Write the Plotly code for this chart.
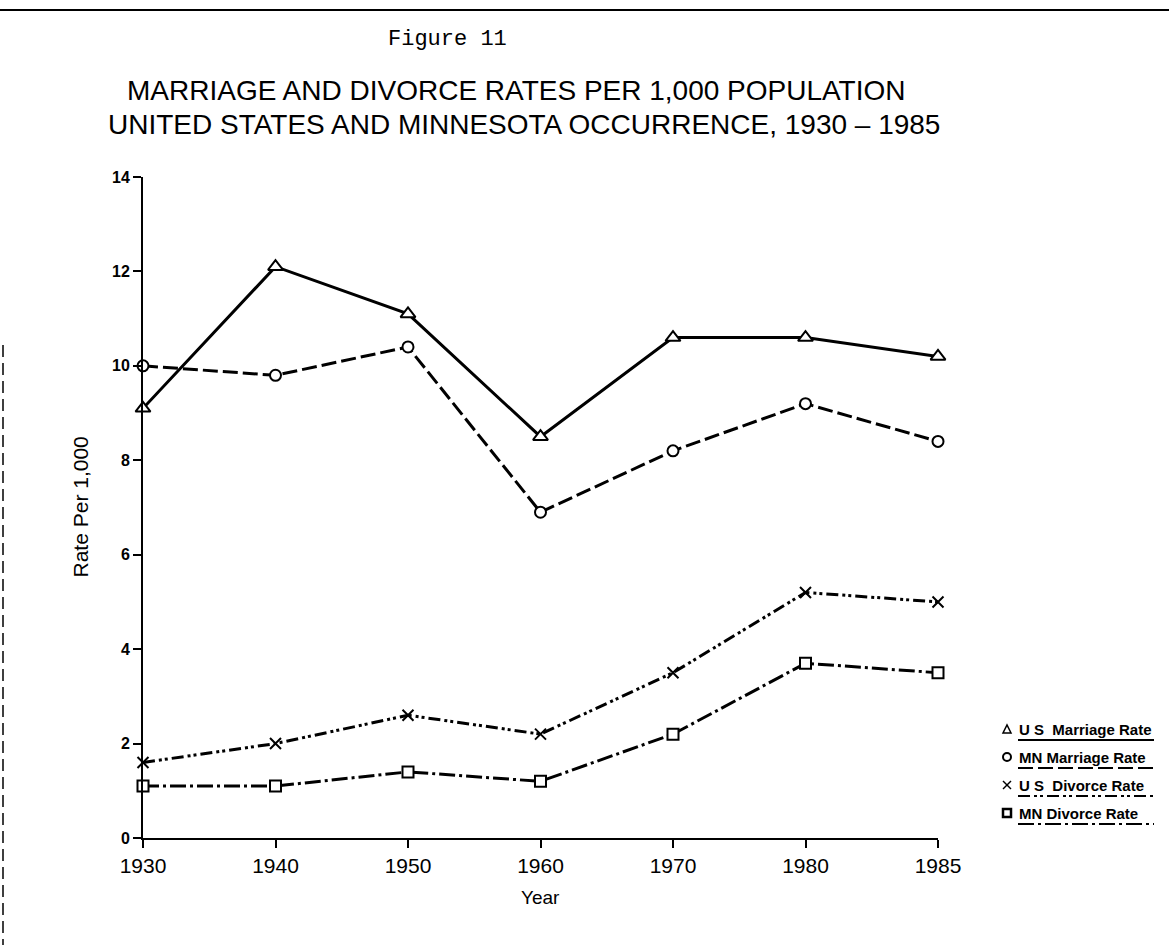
import plotly.graph_objects as go

# ---------------- data ----------------
years = ["1930", "1940", "1950", "1960", "1970", "1980", "1985"]
us_marriage = [9.1, 12.1, 11.1, 8.5, 10.6, 10.6, 10.2]
mn_marriage = [10.0, 9.8, 10.4, 6.9, 8.2, 9.2, 8.4]
us_divorce = [1.6, 2.0, 2.6, 2.2, 3.5, 5.2, 5.0]
mn_divorce = [1.1, 1.1, 1.4, 1.2, 2.2, 3.7, 3.5]
series_names = ["U S  Marriage Rate", "MN Marriage Rate", "U S  Divorce Rate", "MN Divorce Rate"]
y_ticks = [0, 2, 4, 6, 8, 10, 12, 14]

# ---------------- styling ----------------
W_FIG, H_FIG = 1169, 945
L, R, T, B = 143, 231, 177, 107
PW = W_FIG - L - R
PH = H_FIG - T - B

def px(xp):
    return (xp - L) / PW

def py(yp):
    return (H_FIG - B - yp) / PH

SANS = "Liberation Sans Narrow, Liberation Sans, Arial, sans-serif"
dashes = ["solid", "15px,5px", "12px,4px,3px,3px,3px,4px", "16px,4px,3px,4px"]
symbols = ["triangle-up", "circle", "x-thin", "square"]
msizes = [13, 11, 11, 11]
all_series = [us_marriage, mn_marriage, us_divorce, mn_divorce]

fig = go.Figure()
for name, vals, dash, sym, ms in zip(series_names, all_series, dashes, symbols, msizes):
    fig.add_trace(go.Scatter(
        x=years, y=vals, name=name, mode="lines+markers",
        line=dict(color="black", width=3, dash=dash),
        marker=dict(symbol=sym, size=ms, color="white" if sym != "x-thin" else "black",
                    line=dict(color="black", width=2)),
        cliponaxis=False, showlegend=False,
    ))

# ---------------- custom legend ----------------
leg_y = [729, 757, 785, 813]
sx = 1007
annotations = []
shapes = []
for i, (name, yy, dash) in enumerate(zip(series_names, leg_y, dashes)):
    annotations.append(dict(
        x=px(1017), y=py(yy), xref="paper", yref="paper",
        text="<b>" + name + "</b>", showarrow=False, xanchor="left", yanchor="middle",
        font=dict(family=SANS, size=15, color="black"),
    ))
    shapes.append(dict(
        type="line", xref="paper", yref="paper",
        x0=px(1018), x1=px(1154), y0=py(yy + 11), y1=py(yy + 11),
        line=dict(color="black", width=2, dash=dash),
    ))
    s = 4
    if i == 0:
        shapes.append(dict(type="path", xref="paper", yref="paper",
                           path="M %f,%f L %f,%f L %f,%f Z" % (px(sx - s), py(yy + s), px(sx + s), py(yy + s), px(sx), py(yy - s)),
                           line=dict(color="black", width=1.5), fillcolor="white"))
    elif i == 1:
        shapes.append(dict(type="circle", xref="paper", yref="paper",
                           x0=px(sx - s), x1=px(sx + s), y0=py(yy + s), y1=py(yy - s),
                           line=dict(color="black", width=2), fillcolor="white"))
    elif i == 2:
        shapes.append(dict(type="line", xref="paper", yref="paper",
                           x0=px(sx - s), x1=px(sx + s), y0=py(yy + s), y1=py(yy - s),
                           line=dict(color="black", width=1.5)))
        shapes.append(dict(type="line", xref="paper", yref="paper",
                           x0=px(sx - s), x1=px(sx + s), y0=py(yy - s), y1=py(yy + s),
                           line=dict(color="black", width=1.5)))
    else:
        shapes.append(dict(type="rect", xref="paper", yref="paper",
                           x0=px(sx - s), x1=px(sx + s), y0=py(yy + s), y1=py(yy - s),
                           line=dict(color="black", width=2.5), fillcolor="white"))

# titles
annotations.append(dict(x=px(447), y=py(40), xref="paper", yref="paper", text="Figure 11",
                        showarrow=False, xanchor="center", yanchor="middle",
                        font=dict(family="Liberation Mono, Courier New, monospace", size=22, color="black")))
annotations.append(dict(x=px(516), y=py(90), xref="paper", yref="paper",
                        text="MARRIAGE AND DIVORCE RATES PER 1,000 POPULATION",
                        showarrow=False, xanchor="center", yanchor="middle",
                        font=dict(family=SANS, size=28, color="black")))
annotations.append(dict(x=px(524), y=py(124), xref="paper", yref="paper",
                        text="UNITED STATES AND MINNESOTA OCCURRENCE, 1930 \u2013 1985",
                        showarrow=False, xanchor="center", yanchor="middle",
                        font=dict(family=SANS, size=28, color="black")))
# axis titles
annotations.append(dict(x=0.5, y=py(897), xref="paper", yref="paper", text="Year",
                        showarrow=False, xanchor="center", yanchor="middle",
                        font=dict(family=SANS, size=19, color="black")))
annotations.append(dict(x=px(80), y=0.5, xref="paper", yref="paper", text="Rate Per 1,000",
                        textangle=-90, showarrow=False, xanchor="center", yanchor="middle",
                        font=dict(family=SANS, size=21, color="black")))

# scan edge artefacts
shapes.append(dict(type="line", xref="paper", yref="paper", x0=px(0), x1=px(1169),
                   y0=py(10), y1=py(10), line=dict(color="black", width=2)))
shapes.append(dict(type="line", xref="paper", yref="paper", x0=px(3), x1=px(3),
                   y0=py(345), y1=py(945), line=dict(color="black", width=1.5, dash="12px,6px")))

fig.update_layout(
    width=W_FIG, height=H_FIG,
    margin=dict(l=L, r=R, t=T, b=B, pad=0),
    paper_bgcolor="white", plot_bgcolor="white",
    showlegend=False,
    annotations=annotations, shapes=shapes,
    xaxis=dict(type="category", range=[0, len(years) - 1], showgrid=False, zeroline=False,
               showline=True, linecolor="black", linewidth=2,
               ticks="outside", ticklen=8, tickwidth=2, tickcolor="black",
               tickfont=dict(family=SANS, size=21, color="black")),
    yaxis=dict(range=[0, 14], tickvals=y_ticks, showgrid=False, zeroline=False,
               showline=True, linecolor="black", linewidth=2,
               ticks="outside", ticklen=8, tickwidth=2, tickcolor="black",
               tickfont=dict(family="Liberation Sans, Arial, sans-serif", size=16,
                             weight="bold", color="black")),
)

fig.write_html("out.html", config={"displayModeBar": False},
               post_script="document.body.style.margin='0';")
